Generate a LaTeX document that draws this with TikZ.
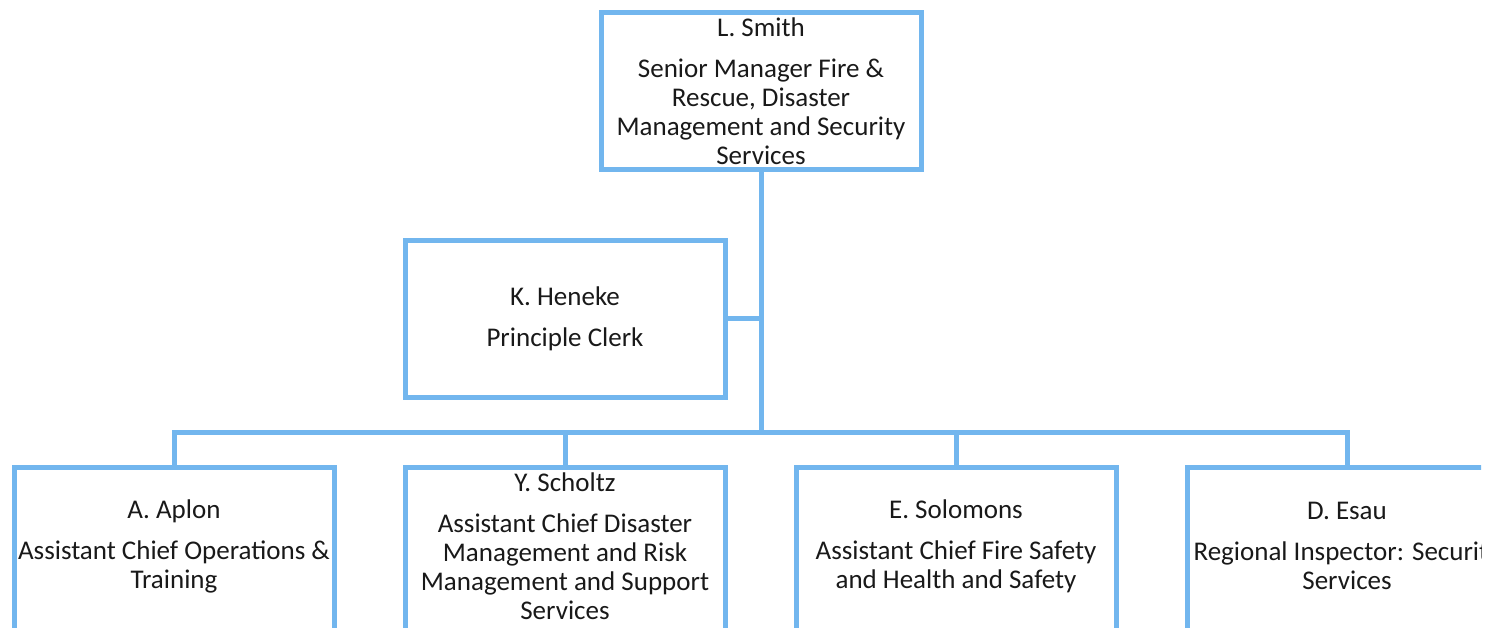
\documentclass[tikz,border=0pt]{standalone}
\usepackage{fontspec}
\setmainfont{Carlito}
\usetikzlibrary{positioning}

\definecolor{orgblue}{RGB}{114,182,238}
\definecolor{orgtext}{RGB}{25,25,25}

\tikzset{
  box/.style={draw=orgblue, line width=5pt, minimum width=320pt, minimum height=157pt,
    inner sep=1pt, align=center, text=orgtext, font=\fontsize{27}{29}\selectfont},
  openbox/.style={box, draw=none, outer sep=0pt},
  link/.style={draw=orgblue, line width=5pt}
}

\begin{document}
\begin{tikzpicture}[x=1pt, y=1pt]
    \useasboundingbox (0,0) rectangle (1498,627);
    \clip (0,0) rectangle (1481,627);

    \node[box] (smith) at (761,536) {L. Smith\\[12pt]Senior Manager Fire \&\\Rescue, Disaster\\Management and Security\\Services};
    \node[box, below=66pt of smith, xshift=-196pt] (heneke) {K. Heneke\\[12pt]Principle Clerk};
    \coordinate[below=32pt of heneke] (hub);

    \node[openbox, below=67.5pt of heneke] (scholtz) {Y. Scholtz\\[12pt]Assistant Chief Disaster\\Management and Risk\\Management and Support\\Services};
    \node[openbox, left=71pt of scholtz] (aplon) {A. Aplon\\[12pt]Assistant Chief Operations \&\\Training};
    \node[openbox, right=71pt of scholtz] (solomons) {E. Solomons\\[12pt]Assistant Chief Fire Safety\\and Health and Safety};
    \node[openbox, right=71pt of solomons] (esau) {D. Esau\\[12pt]Regional Inspector: Security\\Services};

    % lower boxes run off the page
    \foreach \n in {aplon, scholtz, solomons, esau}
        \draw[link] ([yshift=-10pt]\n.south west) -- (\n.north west) -- (\n.north east) -- ([yshift=-10pt]\n.south east);

    \draw[link] (smith.south) -- (smith.south |- hub);
    \draw[link] (heneke.east) -- (heneke.east -| smith.south);
    \draw[link] (aplon.north) -- (hub -| aplon.north) -- (hub -| esau.north) -- (esau.north);
    \draw[link] (hub -| scholtz.north) -- (scholtz.north);
    \draw[link] (hub -| solomons.north) -- (solomons.north);
\end{tikzpicture}
\end{document}
